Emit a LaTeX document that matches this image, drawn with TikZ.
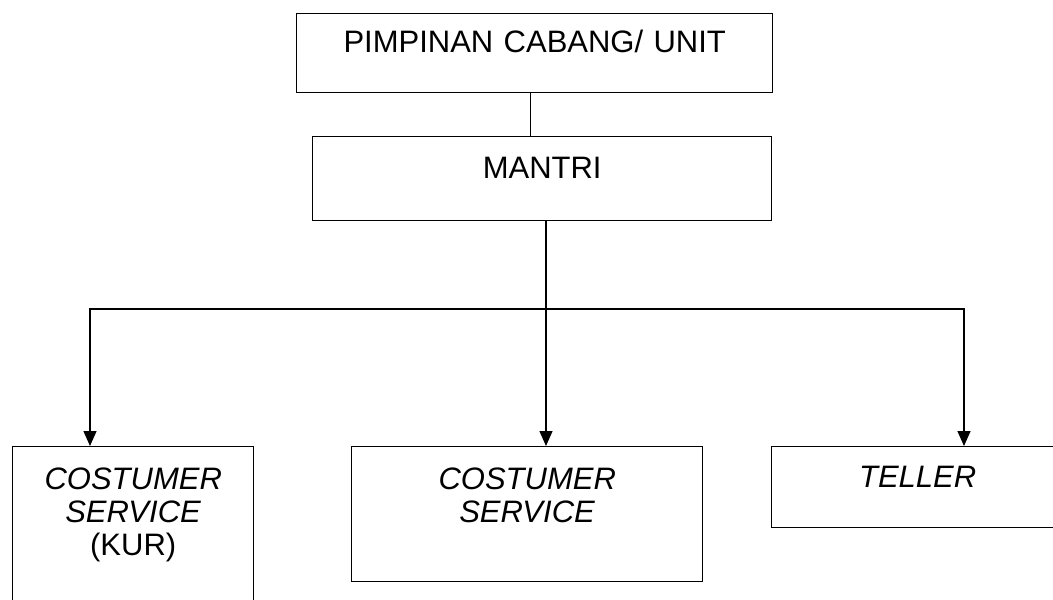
\documentclass[tikz,border=0pt]{standalone}
\usepackage{fontspec}
\setmainfont{Liberation Sans}
\usetikzlibrary{arrows.meta,positioning}

\begin{document}
\begin{tikzpicture}[
    x=1pt,y=-1pt,
    box/.style={draw,line width=1.4pt,inner sep=0pt,anchor=north west,align=center,font=\fontsize{31}{33}\selectfont},
    link/.style={line width=1.4pt},
    arr/.style={line width=1.4pt,-{Triangle[width=13pt,length=15pt]}}
  ]
    \useasboundingbox (0,0) rectangle (1053,600);

    % Top level
    \node[box,text width=476pt,text height=39pt,text depth=40pt] (pimpinan) at (296,13) {PIMPINAN CABANG/ UNIT};
    \node[box,text width=459pt,text height=42pt,text depth=42pt] (mantri) at (312,136) {MANTRI};

    % Staff level
    \node[box,text width=241pt,text height=43pt,text depth=129pt] (kur) at (12,446) {\textit{COSTUMER}\\\textit{SERVICE}\\(KUR)};
    \node[box,text width=351pt,text height=43pt,text depth=92pt] (cs) at (351,446) {\textit{COSTUMER}\\\textit{SERVICE}};
    \node[box,text width=292pt,text height=41pt,text depth=40pt] (teller) at (771,446) {\textit{TELLER}};

    % Branch points
    \coordinate (split) at (546,309);
    \coordinate (left) at (90,309);
    \coordinate (right) at (964,309);

    % Connections
    \draw[link] ([xshift=-4pt]pimpinan.south) -- ([xshift=-4pt]pimpinan.south |- mantri.north);
    \draw[arr] (mantri.south -| split) -- (split |- cs.north);
    \draw[arr] (split) -- (left) -- (left |- kur.north);
    \draw[arr] (split) -- (right) -- (right |- teller.north);
  \end{tikzpicture}
\end{document}
